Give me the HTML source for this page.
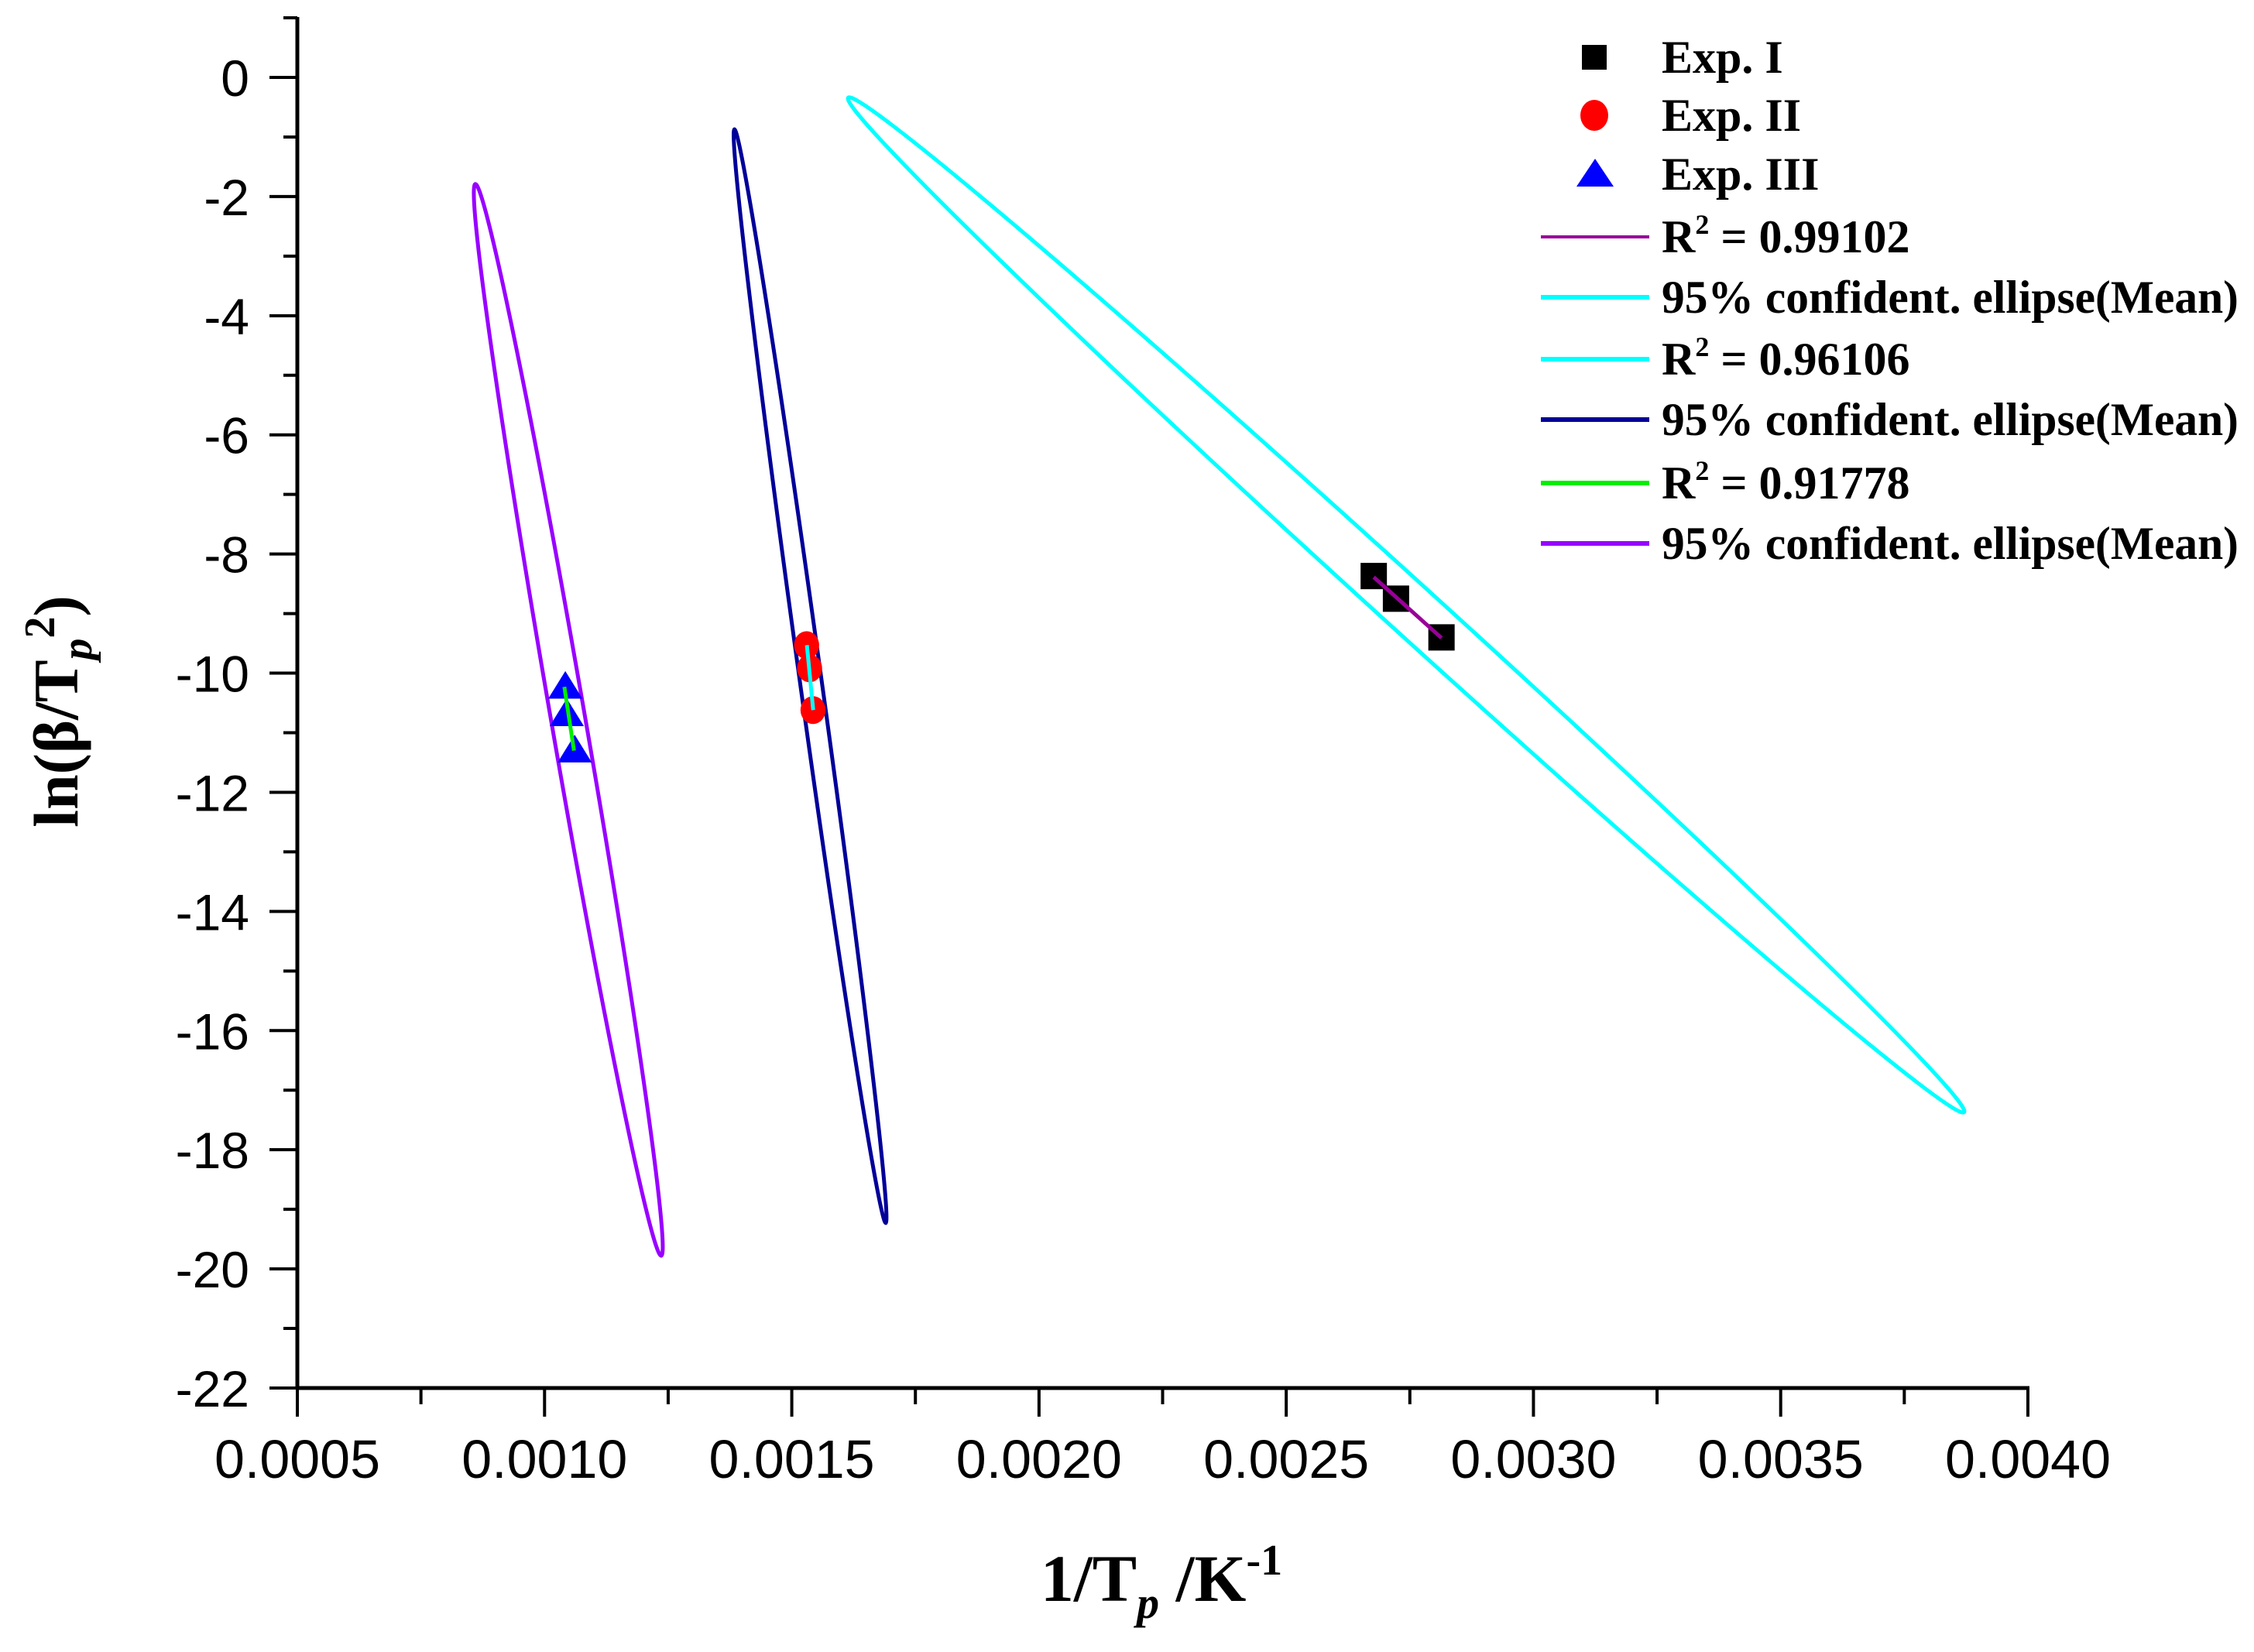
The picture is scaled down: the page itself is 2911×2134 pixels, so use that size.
<!DOCTYPE html>
<html><head><meta charset="utf-8"><style>
html,body{margin:0;padding:0;background:#fff;}
svg{display:block;}
</style></head><body>
<svg id="chart" width="2911" height="2134" viewBox="0 0 2911 2134" xmlns="http://www.w3.org/2000/svg">
<rect width="2911" height="2134" fill="#fff"/>
<g id="plot"></g>
<g id="axes"></g>
<g id="legend"></g>
<text transform="translate(100,919) rotate(-90)" text-anchor="middle" font-family="Liberation Serif, serif" font-weight="bold" font-size="82">ln(β/T<tspan font-size="56" dy="18" font-style="italic">p</tspan><tspan font-size="56" dy="-48">2</tspan><tspan dy="30">)</tspan></text>
<text x="1500" y="2068" text-anchor="middle" font-family="Liberation Serif, serif" font-weight="bold" font-size="86">1/T<tspan font-size="58" dy="22" font-style="italic">p</tspan><tspan dy="-22"> /K</tspan><tspan font-size="56" dy="-34">-1</tspan></text>
</svg>
<script>
const NS="http://www.w3.org/2000/svg";
// data
const xTicks=[0.0005,0.0010,0.0015,0.0020,0.0025,0.0030,0.0035,0.0040];
const xTickLabels=["0.0005","0.0010","0.0015","0.0020","0.0025","0.0030","0.0035","0.0040"];
const yTicks=[0,-2,-4,-6,-8,-10,-12,-14,-16,-18,-20,-22];
const yTickLabels=["0","-2","-4","-6","-8","-10","-12","-14","-16","-18","-20","-22"];
const exp1X=[0.002677,0.002722,0.002814];
const exp1Y=[-8.37,-8.75,-9.40];
const exp2X=[0.001530,0.001536,0.001543];
const exp2Y=[-9.53,-9.92,-10.62];
const exp3X=[0.001042,0.001045,0.001061];
const exp3Y=[-10.23,-10.69,-11.30];
// ellipse tips [x1,y1,x2,y2]
const ellipse1=[0.001614,-0.34,0.003871,-17.37];
const ellipse2=[0.001384,-0.87,0.001690,-19.23];
const ellipse3=[0.000860,-1.79,0.001236,-19.78];

const X0=384,X1=2619,Y0=100,Y22=1793;
function sx(v){return X0+(v-0.0005)/(0.0035)*(X1-X0);}
function sy(v){return Y0+(-v)/22*(Y22-Y0);}
function el(tag,attrs,parent){const e=document.createElementNS(NS,tag);for(const k in attrs)e.setAttribute(k,attrs[k]);parent.appendChild(e);return e;}
const plot=document.getElementById('plot'),axes=document.getElementById('axes'),legend=document.getElementById('legend');

function drawEllipse(t,b,color,name){
  const ax=sx(t[0]),ay=sy(t[1]),bx=sx(t[2]),by=sy(t[3]);
  const cx=(ax+bx)/2,cy=(ay+by)/2,a=Math.hypot(bx-ax,by-ay)/2,ang=Math.atan2(by-ay,bx-ax)*180/Math.PI;
  const e=el('ellipse',{cx:cx,cy:cy,rx:a,ry:b,transform:`rotate(${ang} ${cx} ${cy})`,fill:'none',stroke:color,'stroke-width':5},plot);
  
  
}
drawEllipse(ellipse1,33,'#00ffff','ellipse-exp1');
drawEllipse(ellipse2,14,'#000099','ellipse-exp2');
drawEllipse(ellipse3,22,'#9900ff','ellipse-exp3');

function fitLine(xs,ys,color,name){
  const n=xs.length,mx=xs.reduce((a,b)=>a+b)/n,my=ys.reduce((a,b)=>a+b)/n;
  let sxy=0,sxx=0,syy=0;for(let i=0;i<n;i++){sxy+=(xs[i]-mx)*(ys[i]-my);sxx+=(xs[i]-mx)**2;syy+=(ys[i]-my)**2;}
  let p1,p2;
  if(sxx/ (0.0035*0.0035) > syy/(22*22)*0.2){const m=sxy/sxx;const xa=Math.min(...xs),xb=Math.max(...xs);p1=[xa,my+m*(xa-mx)];p2=[xb,my+m*(xb-mx)];}
  else{const m=sxy/syy;const ya=Math.max(...ys),yb=Math.min(...ys);p1=[mx+m*(ya-my),ya];p2=[mx+m*(yb-my),yb];}
  const l=el('line',{x1:sx(p1[0]),y1:sy(p1[1]),x2:sx(p2[0]),y2:sy(p2[1]),stroke:color,'stroke-width':5},plot);
  
  
}
function square(x,y,s,parent,name){const r=el('rect',{x:x-s/2,y:y-s/2,width:s,height:s,fill:'#000'},parent);}
function circle(x,y,r0,parent,name){const c=el('ellipse',{cx:x,cy:y,rx:r0*0.9,ry:r0,fill:'#ff0000'},parent);}
function tri(x,y,s,parent,name){const p=el('polygon',{points:`${x},${y-s*0.6} ${x-s*0.65},${y+s*0.45} ${x+s*0.65},${y+s*0.45}`,fill:'#0000ff'},parent);}

for(let i=0;i<exp1X.length;i++)square(sx(exp1X[i]),sy(exp1Y[i]),34,plot,'exp1-point');
for(let i=0;i<exp2X.length;i++)circle(sx(exp2X[i]),sy(exp2Y[i]),18,plot,'exp2-point');
for(let i=0;i<exp3X.length;i++)tri(sx(exp3X[i]),sy(exp3Y[i]),34,plot,'exp3-point');
fitLine(exp1X,exp1Y,'#990099','fit-line-exp1');
fitLine(exp2X,exp2Y,'#00ffff','fit-line-exp2');
fitLine(exp3X,exp3Y,'#00ee00','fit-line-exp3');

// axes
let a=el('line',{x1:X0,y1:22,x2:X0,y2:Y22+2,stroke:'#000','stroke-width':5},axes);

a=el('line',{x1:X0-2,y1:Y22,x2:X1+2,y2:Y22,stroke:'#000','stroke-width':5},axes);

for(let i=0;i<yTicks.length;i++){
  const y=sy(yTicks[i]);
  const t=el('line',{x1:X0-36,y1:y,x2:X0,y2:y,stroke:'#000','stroke-width':4},axes);
  
  if(i<yTicks.length-1){const ym=sy(yTicks[i]-1);const m=el('line',{x1:X0-18,y1:ym,x2:X0,y2:ym,stroke:'#000','stroke-width':4},axes);}
  const tx=el('text',{x:322,y:y+24,'text-anchor':'end','font-family':'Liberation Sans, sans-serif','font-size':66},axes);
  tx.textContent=yTickLabels[i];
  
}
const ym0=sy(1);const mt=el('line',{x1:X0-18,y1:ym0,x2:X0,y2:ym0,stroke:'#000','stroke-width':4},axes);

for(let i=0;i<xTicks.length;i++){
  const x=sx(xTicks[i]);
  const t=el('line',{x1:x,y1:Y22,x2:x,y2:Y22+37,stroke:'#000','stroke-width':4},axes);
  
  if(i<xTicks.length-1){const xm=sx(xTicks[i]+0.00025);const m=el('line',{x1:xm,y1:Y22,x2:xm,y2:Y22+21,stroke:'#000','stroke-width':4},axes);}
  const tx=el('text',{x:x,y:1909,'text-anchor':'middle','font-family':'Liberation Sans, sans-serif','font-size':70},axes);
  tx.textContent=xTickLabels[i];
  
}
</script>
<script>
(function(){
const NS="http://www.w3.org/2000/svg";
const legend=document.getElementById('legend');
const rows=[
 ['sq','#000','Exp. I',74],['ci','#f00','Exp. II',149],['tr','#00f','Exp. III',225],
 ['ln','#990099','R2 = 0.99102',306],['ln','#00ffff','95% confident. ellipse(Mean)',384],
 ['ln','#00ffff','R2 = 0.96106',464],['ln','#000099','95% confident. ellipse(Mean)',542],
 ['ln','#00ee00','R2 = 0.91778',624],['ln','#9900ff','95% confident. ellipse(Mean)',702]];
rows.forEach(r=>{
  const g=document.createElementNS(NS,'g');legend.appendChild(g);
  
  
  let m;
  if(r[0]==='sq'){m=document.createElementNS(NS,'rect');m.setAttribute('x',2059-16);m.setAttribute('y',r[3]-16);m.setAttribute('width',32);m.setAttribute('height',32);m.setAttribute('fill',r[1]);}
  else if(r[0]==='ci'){m=document.createElementNS(NS,'ellipse');m.setAttribute('cx',2059);m.setAttribute('cy',r[3]);m.setAttribute('rx',18);m.setAttribute('ry',20);m.setAttribute('fill',r[1]);}
  else if(r[0]==='tr'){m=document.createElementNS(NS,'polygon');m.setAttribute('points',`2060,${r[3]-20} 2036,${r[3]+16} 2084,${r[3]+16}`);m.setAttribute('fill',r[1]);}
  else{m=document.createElementNS(NS,'line');m.setAttribute('x1',1990);m.setAttribute('x2',2130);m.setAttribute('y1',r[3]);m.setAttribute('y2',r[3]);m.setAttribute('stroke',r[1]);m.setAttribute('stroke-width',r[1]==='#990099'?4:6);}
  g.appendChild(m);
  
  
  const t=document.createElementNS(NS,'text');
  t.setAttribute('x',2146);t.setAttribute('y',r[3]+20);
  t.setAttribute('font-family','Liberation Serif, serif');t.setAttribute('font-weight','bold');t.setAttribute('font-size','60');
  if(r[2].startsWith('R2')){
    t.innerHTML='R<tspan font-size="36" dy="-24">2</tspan><tspan dy="24">'+r[2].slice(2)+'</tspan>';
  } else {
    t.textContent=r[2];
    if(r[2].length>20){t.setAttribute('textLength','745');t.setAttribute('lengthAdjust','spacingAndGlyphs');}
  }
  
  
  g.appendChild(t);
});
})();
</script>
</body></html>
